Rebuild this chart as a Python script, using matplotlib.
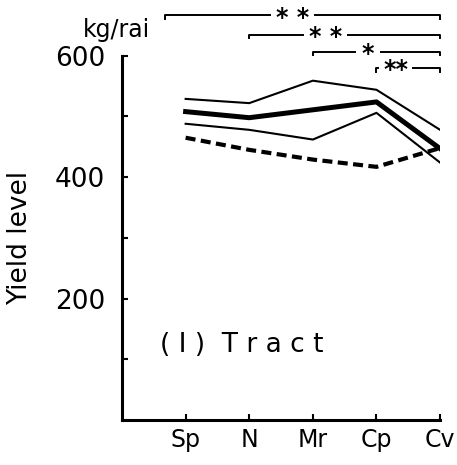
import matplotlib
matplotlib.use("Agg")
import matplotlib.pyplot as plt

# data
systems = ["Sp", "N", "Mr", "Cp", "Cv"]
upper_band = [529, 522, 559, 544, 478]
mean_yield = [508, 498, 511, 524, 447]
lower_band = [488, 478, 462, 506, 424]
farmer_yield = [465, 445, 429, 417, 448]

# significance comparisons against Cv
sig_from = ["Sp", "N", "Mr", "Cp"]
sig_marks = ["* *", "* *", "*", "**"]

plt.rcParams['font.family'] = ['DejaVu Sans']

fig = plt.figure(figsize=(4.57, 4.65), dpi=100)
ax = fig.add_axes([0.267, 0.097, 0.696, 0.783])

x = list(range(1, len(systems) + 1))
ax.plot(x, upper_band, color='black', lw=1.5)
ax.plot(x, lower_band, color='black', lw=1.5)
ax.plot(x, mean_yield, color='black', lw=3.6)
ax.plot(x, farmer_yield, color='black', lw=3.0, linestyle=(0, (2.4, 1.3)))

ax.set_xlim(0, 5)
ax.set_ylim(0, 600)
for s in ['top', 'right']:
    ax.spines[s].set_visible(False)
for s in ['left', 'bottom']:
    ax.spines[s].set_linewidth(2.2)

ax.set_xticks(x)
ax.set_xticklabels(systems, fontsize=17)
ax.set_yticks([100, 200, 300, 400, 500, 600])
ax.set_yticklabels(['', '200', '', '400', '', '600'], fontsize=19)
ax.tick_params(direction='in', length=4, width=1.5)
ax.tick_params(axis='y', pad=12)
ax.tick_params(axis='x', pad=6)

ax.set_ylabel('Yield level', fontsize=19, labelpad=16)
ax.text(-0.08, 643, 'kg/rai', fontsize=17, ha='center', va='center', clip_on=False)
ax.text(0.6, 124, '( I )  T r a c t', fontsize=19, ha='left', va='center')

# significance brackets above the plot
levels = [667, 635, 607, 580]
star_pos = [2.68, 3.2, 3.87, 4.3]
for name, mark, yl, sx in zip(sig_from, sig_marks, levels, star_pos):
    x0 = systems.index(name) + 1
    if name == "Sp":
        x0 -= 0.32
    x1 = len(systems)
    w = 0.08 * len(mark) + 0.12
    ax.plot([x0, x0, sx - w], [yl - 6, yl, yl], color='black', lw=1.4, clip_on=False)
    ax.plot([sx + w, x1, x1], [yl, yl, yl - 6], color='black', lw=1.4, clip_on=False)
    ax.text(sx, yl - 4, mark, fontsize=17, fontweight='bold', ha='center', va='center', clip_on=False)

fig.savefig('out.png', dpi=100)
